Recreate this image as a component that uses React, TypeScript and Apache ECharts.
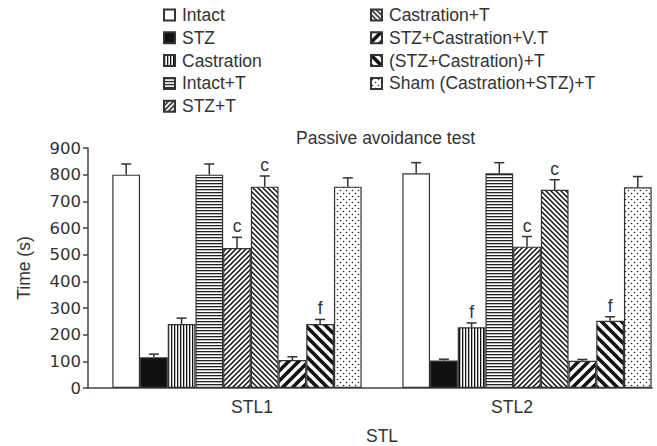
import React, { useEffect, useRef } from "react";
import * as echarts from "echarts";

const categories = ["STL1", "STL2"];
const groups = [
  "Intact",
  "STZ",
  "Castration",
  "Intact+T",
  "STZ+T",
  "Castration+T",
  "STZ+Castration+V.T",
  "(STZ+Castration)+T",
  "Sham (Castration+STZ)+T",
];
const stl1Values = [800, 115, 240, 800, 525, 755, 105, 240, 755];
const stl2Values = [805, 103, 228, 805, 530, 743, 102, 252, 753];
const stl1Errors = [40, 12, 22, 40, 40, 40, 12, 17, 33];
const stl2Errors = [40, 5, 16, 40, 38, 38, 5, 15, 40];
const stl1Marks = ["", "", "", "", "c", "c", "", "f", ""];
const stl2Marks = ["", "", "f", "", "c", "c", "", "f", ""];
const yMin = 0;
const yMax = 900;
const yInterval = 100;

const FONT = '"Liberation Sans", Arial, sans-serif';
const NUMFONT = '"DejaVu Sans", sans-serif';
const TXT = "#333";
const BAR_W = 27.7;

function makePattern(size: number, draw: (ctx: CanvasRenderingContext2D, s: number) => void) {
  const c = document.createElement("canvas");
  c.width = size;
  c.height = size;
  const ctx = c.getContext("2d")!;
  ctx.fillStyle = "#fff";
  ctx.fillRect(0, 0, size, size);
  draw(ctx, size);
  return { image: c, repeat: "repeat", imageWidth: size, imageHeight: size } as any;
}

function diag(ctx: CanvasRenderingContext2D, s: number, w: number, up: boolean) {
  ctx.strokeStyle = "#111";
  ctx.lineWidth = w;
  ctx.lineCap = "square";
  const segs = up
    ? [
        [-s, s, s, -s],
        [0, s * 2, s * 2, 0],
        [-s, s * 2, s * 2, -s],
      ]
    : [
        [-s, 0, s, s * 2],
        [0, -s, s * 2, s],
        [-s, -s, s * 2, s * 2],
      ];
  for (const [a, b, c, d] of segs) {
    ctx.beginPath();
    ctx.moveTo(a, b);
    ctx.lineTo(c, d);
    ctx.stroke();
  }
}

export default function App() {
  const ref = useRef<HTMLDivElement>(null);
  useEffect(() => {
    document.body.style.margin = "0";
    const chart = echarts.init(ref.current!, undefined, { renderer: "svg" });

    const fills: any[] = [
      "#fff",
      "#111",
      makePattern(3, (ctx) => {
        ctx.fillStyle = "#111";
        ctx.fillRect(0, 0, 1.3, 3);
      }),
      makePattern(3, (ctx) => {
        ctx.fillStyle = "#222";
        ctx.fillRect(0, 0, 3, 1.3);
      }),
      makePattern(5, (ctx, s) => diag(ctx, s, 1.5, true)),
      makePattern(5, (ctx, s) => diag(ctx, s, 1.5, false)),
      makePattern(10, (ctx, s) => diag(ctx, s, 3.6, true)),
      makePattern(10, (ctx, s) => diag(ctx, s, 3.6, false)),
      makePattern(6, (ctx) => {
        ctx.fillStyle = "#222";
        ctx.beginPath();
        ctx.arc(1.5, 1.5, 0.8, 0, Math.PI * 2);
        ctx.fill();
        ctx.beginPath();
        ctx.arc(4.5, 4.5, 0.8, 0, Math.PI * 2);
        ctx.fill();
      }),
    ];

    const barSeries = groups.map((g, i) => ({
      name: g,
      type: "bar",
      xAxisIndex: 1,
      yAxisIndex: 1,
      barWidth: BAR_W,
      barGap: "0%",
      data: [stl1Values[i], stl2Values[i]],
      itemStyle: { color: fills[i], borderColor: "#333", borderWidth: 1.2 },
      emphasis: { disabled: true },
    }));

    const errData: number[][] = [];
    const marks: string[] = [];
    [
      [stl1Values, stl1Errors, stl1Marks],
      [stl2Values, stl2Errors, stl2Marks],
    ].forEach((arr: any, c) => {
      groups.forEach((_, s) => {
        errData.push([c, s, arr[0][s], arr[1][s]]);
        marks.push(arr[2][s]);
      });
    });

    const legendBase = {
      orient: "vertical",
      padding: 0,
      itemGap: 4.8,
      itemWidth: 11,
      itemHeight: 11,
      icon: "rect",
      selectedMode: false,
      textStyle: { fontSize: 17.5, color: TXT, fontFamily: FONT, padding: [0, 0, 0, 2] },
    };

    chart.setOption({
      animation: false,
      textStyle: { fontFamily: FONT },
      title: {
        text: "Passive avoidance test",
        left: 296,
        top: 129,
        padding: 0,
        textStyle: { fontSize: 17.5, fontWeight: "normal", color: TXT, fontFamily: FONT },
      },
      legend: [
        { ...legendBase, data: groups.slice(0, 5), left: 163, top: 6 },
        { ...legendBase, data: groups.slice(5), left: 370, top: 6 },
      ],
      grid: [
        { left: 88, width: 564, top: 148, bottom: 58, outerBoundsMode: "none", containLabel: false },
        { left: 92, width: 580, top: 148, bottom: 58, outerBoundsMode: "none", containLabel: false },
      ],
      xAxis: [
        {
          type: "category",
          gridIndex: 0,
          data: categories,
          axisLine: { show: true, lineStyle: { color: "#444", width: 1.5 } },
          axisTick: { show: false },
          axisLabel: { show: false },
        },
        {
          type: "category",
          gridIndex: 1,
          data: categories,
          axisLine: { show: false },
          axisTick: { show: false },
          axisLabel: {
            margin: 10,
            formatter: (v: string, i: number) => (i === 0 ? `{a|${v}}` : `{b|${v}}`),
            rich: {
              a: { padding: [0, 0, 0, 30], fontSize: 17.5, color: TXT, fontFamily: FONT },
              b: { padding: [0, 30, 0, 0], fontSize: 17.5, color: TXT, fontFamily: FONT },
            },
          },
          name: "STL",
          nameLocation: "middle",
          nameGap: 40,
          nameTextStyle: { fontSize: 17.5, lineHeight: 16, color: TXT, fontFamily: FONT },
        },
      ],
      yAxis: [
        {
          type: "value",
          gridIndex: 0,
          min: yMin,
          max: yMax,
          interval: yInterval,
          axisLine: { show: true, lineStyle: { color: "#444", width: 1.5 } },
          axisTick: { show: true, length: 5, lineStyle: { color: "#444", width: 1.5 } },
          axisLabel: { fontSize: 16.5, color: TXT, margin: 7, fontFamily: NUMFONT },
          splitLine: { show: false },
          name: "Time (s)",
          nameLocation: "middle",
          nameGap: 55,
          nameTextStyle: { fontSize: 17.5, color: TXT, fontFamily: FONT },
        },
        {
          type: "value",
          gridIndex: 1,
          min: yMin,
          max: yMax,
          interval: yInterval,
          show: false,
        },
      ],
      series: [
        ...barSeries,
        {
          type: "custom",
          xAxisIndex: 1,
          yAxisIndex: 1,
          encode: { x: 0, y: 2 },
          data: errData,
          z: 5,
          renderItem: (params: any, api: any) => {
            const cat = api.value(0);
            const s = api.value(1);
            const v = api.value(2);
            const e = api.value(3);
            const center = api.coord([cat, 0])[0];
            const x = center + (s - 4) * BAR_W;
            const yTop = api.coord([cat, v])[1];
            const yErr = api.coord([cat, v + e])[1];
            const ls = { stroke: "#333", lineWidth: 1.5 };
            const children: any[] = [
              { type: "line", shape: { x1: x, y1: yTop, x2: x, y2: yErr }, style: ls },
              { type: "line", shape: { x1: x - 5, y1: yErr, x2: x + 5, y2: yErr }, style: ls },
            ];
            const m = marks[params.dataIndex];
            if (m) {
              children.push({
                type: "text",
                style: {
                  text: m,
                  x,
                  y: yErr - 2,
                  align: "center",
                  verticalAlign: "bottom",
                  font: `17.5px ${FONT}`,
                  fill: TXT,
                },
              });
            }
            return { type: "group", children };
          },
        },
      ],
    });
    return () => chart.dispose();
  }, []);
  return (
    <div
      ref={ref}
      style={{ position: "absolute", left: 0, top: 0, width: 657, height: 446 }}
    />
  );
}
